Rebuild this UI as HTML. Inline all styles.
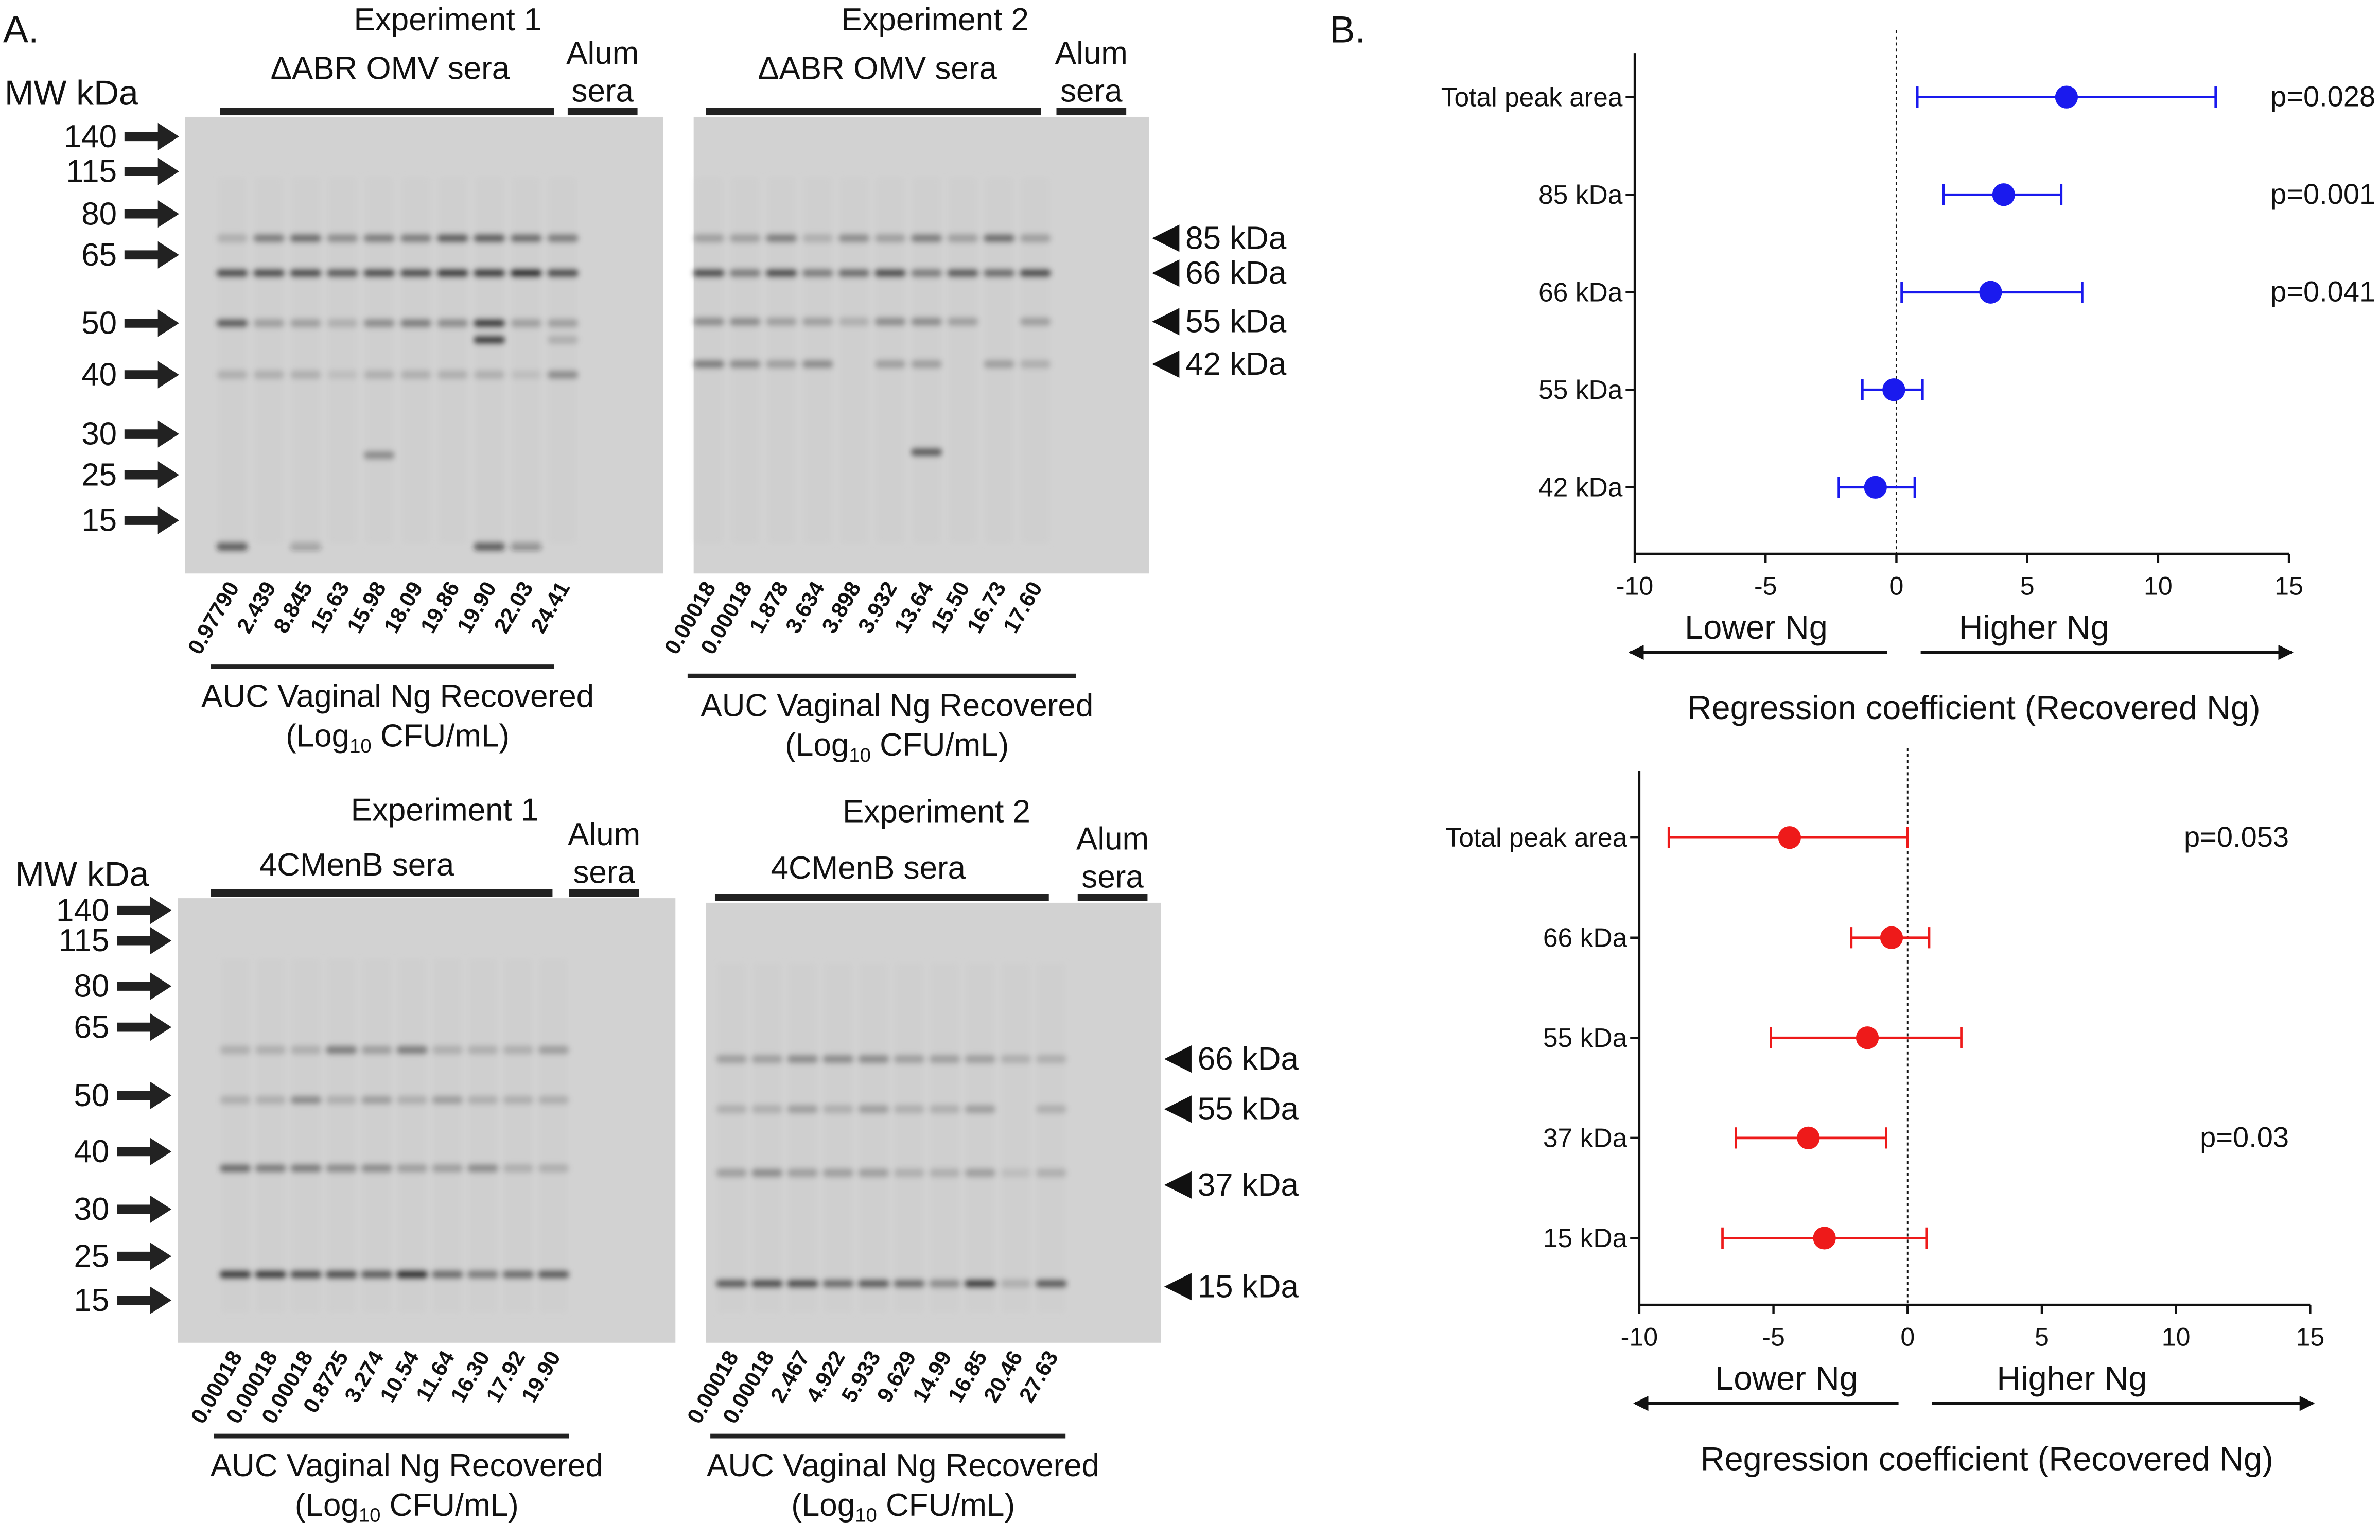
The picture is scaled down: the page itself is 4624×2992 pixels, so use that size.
<!DOCTYPE html>
<html><head><meta charset="utf-8"><style>
html,body{margin:0;padding:0;background:#fff}
svg{display:block}
text{font-family:"Liberation Sans",sans-serif;fill:#111}
</style></head><body>
<svg id="fig" width="4624" height="2992" viewBox="0 0 1568 1015" preserveAspectRatio="none" xmlns="http://www.w3.org/2000/svg">
<defs>
<marker id="ah" markerWidth="10" markerHeight="10" refX="9" refY="5" orient="auto" markerUnits="userSpaceOnUse"><path d="M0,0 L10,5 L0,10 z" fill="#111"/></marker>
<filter id="blur"><feGaussianBlur stdDeviation="1.8"/></filter>
</defs>
<g id="panelA"></g>
<g id="panelB"></g>
</svg>
<script>
// ---------- Forest plot data ----------
const topCats = ["Total peak area","85 kDa","66 kDa","55 kDa","42 kDa"];
const topEst = [6.5,4.1,3.6,-0.1,-0.8];
const topLo = [0.8,1.8,0.2,-1.3,-2.2];
const topHi = [12.2,6.3,7.1,1.0,0.7];
const topP = ["p=0.028","p=0.001","p=0.041","",""];
const botCats = ["Total peak area","66 kDa","55 kDa","37 kDa","15 kDa"];
const botEst = [-4.4,-0.6,-1.5,-3.7,-3.1];
const botLo = [-8.9,-2.1,-5.1,-6.4,-6.9];
const botHi = [0.0,0.8,2.0,-0.8,0.7];
const botP = ["p=0.053","","","p=0.03",""];
const xTicks = [-10,-5,0,5,10,15];

const NS="http://www.w3.org/2000/svg";
function mk(parent,tag,attrs,txt){const e=document.createElementNS(NS,tag);for(const k in attrs)e.setAttribute(k,attrs[k]);if(txt!==undefined)e.textContent=txt;parent.appendChild(e);return e;}

const A=document.getElementById('panelA');
const B=document.getElementById('panelB');

function forest(g,cfg,cats,est,lo,hi,ps,color){
  const x=v=>cfg.x0+(v+10)/25*(cfg.x1-cfg.x0);
  const y=i=>cfg.yFirst+i*cfg.yStep;
  let ax=mk(g,'line',{x1:cfg.x0,y1:cfg.yTop,x2:cfg.x0,y2:cfg.yBot,stroke:'#111','stroke-width':1.5});
  
  
  let bx=mk(g,'line',{x1:cfg.x0,y1:cfg.yBot,x2:cfg.x1,y2:cfg.yBot,stroke:'#111','stroke-width':1.5});
  
  
  let zl=mk(g,'line',{x1:x(0),y1:cfg.yTop-15,x2:x(0),y2:cfg.yBot,stroke:'#111','stroke-width':1,'stroke-dasharray':'2,2'});
  
  
  xTicks.forEach(t=>{
    mk(g,'line',{x1:x(t),y1:cfg.yBot,x2:x(t),y2:cfg.yBot+6,stroke:'#111','stroke-width':1.5});
    let tl=mk(g,'text',{x:x(t),y:cfg.yBot+27,'text-anchor':'middle','font-size':17},String(t));
    
    
  });
  cats.forEach((c,i)=>{
    mk(g,'line',{x1:cfg.x0-6,y1:y(i),x2:cfg.x0,y2:y(i),stroke:'#111','stroke-width':1.5});
    let cl=mk(g,'text',{x:cfg.x0-8,y:y(i)+6,'text-anchor':'end','font-size':17.5},c);
    
    
    let eb=mk(g,'g',{});
    
    
    mk(eb,'line',{x1:x(lo[i]),y1:y(i),x2:x(hi[i]),y2:y(i),stroke:color,'stroke-width':1.6});
    mk(eb,'line',{x1:x(lo[i]),y1:y(i)-7,x2:x(lo[i]),y2:y(i)+7,stroke:color,'stroke-width':1.6});
    mk(eb,'line',{x1:x(hi[i]),y1:y(i)-7,x2:x(hi[i]),y2:y(i)+7,stroke:color,'stroke-width':1.6});
    let pt=mk(g,'circle',{cx:x(est[i]),cy:y(i),r:7.5,fill:color});
    
    
    if(ps[i]){let pl=mk(g,'text',{x:cfg.pX,y:y(i)+6,'text-anchor':'end','font-size':19},ps[i]);
      
      }
  });
  let l1=mk(g,'text',{x:cfg.lowX,y:cfg.yBot+56,'text-anchor':'middle','font-size':22},'Lower Ng');
  
  
  let l2=mk(g,'text',{x:cfg.highX,y:cfg.yBot+56,'text-anchor':'middle','font-size':22},'Higher Ng');
  
  
  let a1=mk(g,'line',{x1:x(0)-6,y1:cfg.yBot+65,x2:cfg.x0-3,y2:cfg.yBot+65,stroke:'#111','stroke-width':2,'marker-end':'url(#ah)'});
  
  
  let a2=mk(g,'line',{x1:x(0)+16,y1:cfg.yBot+65,x2:cfg.x1+2,y2:cfg.yBot+65,stroke:'#111','stroke-width':2,'marker-end':'url(#ah)'});
  
  
  let t=mk(g,'text',{x:(cfg.x0+cfg.x1)/2+8,y:cfg.yBot+109,'text-anchor':'middle','font-size':22},'Regression coefficient (Recovered Ng)');
  
  
}
forest(B,{x0:1077,x1:1508,yTop:35,yBot:365,yFirst:64,yStep:64.3,pX:1565,lowX:1157,highX:1340},topCats,topEst,topLo,topHi,topP,'#1a1aee');
forest(B,{x0:1080,x1:1522,yTop:508,yBot:860,yFirst:552,yStep:66,pX:1508,lowX:1177,highX:1365},botCats,botEst,botLo,botHi,botP,'#ee1a1a');
let bl=mk(B,'text',{x:876,y:28,'font-size':25},'B.');


let al=mk(A,'text',{x:2,y:28,'font-size':25},'A.');



// ---------- Gels ----------
function gel(cfg){
  const g=mk(A,'g',{});
  
  
  mk(g,'rect',{x:cfg.x,y:cfg.y,width:cfg.w,height:cfg.h,fill:'#d2d2d2'});
  const bands=mk(g,'g',{filter:'url(#blur)'});
  cfg.lanes.forEach((lx,li)=>{
    mk(bands,'rect',{x:lx-9,y:cfg.y+40,width:18,height:cfg.h-60,fill:'#c8c8c8',opacity:0.35});
    cfg.bands.forEach(b=>{
      const op=b.ops?b.ops[li]:b.op;
      if(op>0) mk(bands,'rect',{x:lx-10,y:b.y-3,width:20,height:6,rx:2,fill:'#222',opacity:op*0.9});
    });
  });
  let t1=mk(g,'text',{x:cfg.ex,y:cfg.ey,'text-anchor':'middle','font-size':21},cfg.exp);
  
  
  let t2=mk(g,'text',{x:cfg.hx,y:cfg.sy,'text-anchor':'middle','font-size':21},cfg.sera);
  
  
  mk(g,'rect',{x:cfg.barX1,y:cfg.y-6,width:cfg.barX2-cfg.barX1,height:5,fill:'#222'});
  mk(g,'rect',{x:cfg.alX,y:cfg.y-6,width:46,height:5,fill:'#222'});
  mk(g,'text',{x:cfg.alX+23,y:cfg.y-35,'text-anchor':'middle','font-size':21},'Alum');
  mk(g,'text',{x:cfg.alX+23,y:cfg.y-10,'text-anchor':'middle','font-size':21},'sera');
  cfg.nums.forEach((n,i)=>{
    const lx=cfg.lanes[i]+5, ly=cfg.y+cfg.h+9;
    let nt=mk(g,'text',{x:lx,y:ly,'text-anchor':'end','font-size':14.5,'font-weight':'bold',transform:`rotate(-60 ${lx} ${ly})`},n);
    
    
  });
  const by=cfg.y+cfg.h+cfg.auc;
  mk(g,'rect',{x:cfg.lanes[0]-14,y:by,width:cfg.aucW,height:3,fill:'#222'});
  let a=mk(g,'text',{x:cfg.lanes[0]-14+cfg.aucW/2+10,y:by+28,'text-anchor':'middle','font-size':21},'AUC Vaginal Ng Recovered');
  
  
  const t=mk(g,'text',{x:cfg.lanes[0]-14+cfg.aucW/2+10,y:by+54,'text-anchor':'middle','font-size':21});
  t.innerHTML='(Log<tspan font-size="13" dy="4">10</tspan><tspan dy="-4"> CFU/mL)</tspan>';
  if(cfg.mw){
    mk(g,'text',{x:cfg.mwX,y:cfg.y-8,'font-size':23},'MW kDa');
    cfg.mw.forEach(m=>{
      mk(g,'text',{x:cfg.x-45,y:m[1]+7,'text-anchor':'end','font-size':21},m[0]);
      mk(g,'path',{d:`M${cfg.x-40},${m[1]-3} h22 v-6 l14,9 l-14,9 v-6 h-22 z`,fill:'#222'});
    });
  }
  if(cfg.right){
    cfg.right.forEach(r=>{
      mk(g,'path',{d:`M${cfg.x+cfg.w+2},${r[1]} l18,-9 v18 z`,fill:'#111'});
      mk(g,'text',{x:cfg.x+cfg.w+24,y:r[1]+7,'font-size':21},r[0]);
    });
  }
}
function lanes(a,step,n){const r=[];for(let i=0;i<n;i++)r.push(a+i*step);return r;}
gel({name:'gel-omv-exp1',x:122,y:77,w:315,h:301,ex:295,ey:20,hx:257,sy:52,exp:'Experiment 1',sera:'ΔABR OMV sera',barX1:145,barX2:365,alX:374,
  lanes:lanes(153,24.2,10),auc:60,aucW:226,mwX:3,
  nums:['0.97790','2.439','8.845','15.63','15.98','18.09','19.86','19.90','22.03','24.41'],
  mw:[['140',90],['115',113],['80',141],['65',168],['50',213],['40',247],['30',286],['25',313],['15',343]],
  bands:[{y:157,ops:[.2,.5,.6,.4,.5,.5,.7,.7,.6,.5]},{y:180,ops:[.8,.8,.8,.7,.8,.8,.9,.9,1,.8]},{y:213,ops:[.7,.3,.3,.2,.4,.5,.4,.9,.3,.3]},{y:224,ops:[0,0,0,0,0,0,0,.9,0,.2]},{y:247,ops:[.2,.2,.2,.1,.2,.2,.2,.2,.1,.4]},{y:300,ops:[0,0,0,0,.4,0,0,0,0,0]},{y:360,ops:[.7,0,.3,0,0,0,0,.7,.4,0]}]});
gel({name:'gel-omv-exp2',x:457,y:77,w:300,h:301,ex:616,ey:20,hx:578,sy:52,exp:'Experiment 2',sera:'ΔABR OMV sera',barX1:465,barX2:686,alX:696,
  lanes:lanes(467,23.9,10),auc:66,aucW:256,right:[['85 kDa',157],['66 kDa',180],['55 kDa',212],['42 kDa',240]],
  nums:['0.00018','0.00018','1.878','3.634','3.898','3.932','13.64','15.50','16.73','17.60'],
  bands:[{y:157,ops:[.3,.3,.5,.2,.4,.3,.5,.3,.6,.3]},{y:180,ops:[.8,.5,.8,.5,.6,.8,.5,.7,.6,.8]},{y:212,ops:[.4,.4,.3,.3,.2,.4,.4,.3,0,.3]},{y:240,ops:[.5,.4,.3,.4,0,.3,.3,0,.3,.2]},{y:298,ops:[0,0,0,0,0,0,.7,0,0,0]}]});
gel({name:'gel-4cmenb-exp1',x:117,y:592,w:328,h:293,ex:293,ey:541,hx:235,sy:577,exp:'Experiment 1',sera:'4CMenB sera',barX1:139,barX2:364,alX:375,
  lanes:lanes(155,23.3,10),auc:60,aucW:234,mwX:10,
  nums:['0.00018','0.00018','0.00018','0.8725','3.274','10.54','11.64','16.30','17.92','19.90'],
  mw:[['140',600],['115',620],['80',650],['65',677],['50',722],['40',759],['30',797],['25',828],['15',857]],
  bands:[{y:692,ops:[.2,.2,.2,.5,.3,.5,.2,.2,.2,.3]},{y:725,ops:[.2,.2,.4,.2,.3,.2,.3,.2,.2,.2]},{y:770,ops:[.6,.5,.5,.4,.4,.3,.3,.4,.2,.2]},{y:840,ops:[.9,.9,.8,.8,.7,1,.6,.5,.6,.7]}]});
gel({name:'gel-4cmenb-exp2',x:465,y:595,w:300,h:290,ex:617,ey:542,hx:572,sy:579,exp:'Experiment 2',sera:'4CMenB sera',barX1:471,barX2:691,alX:710,
  lanes:lanes(482,23.4,10),auc:60,aucW:234,right:[['66 kDa',698],['55 kDa',731],['37 kDa',781],['15 kDa',848]],
  nums:['0.00018','0.00018','2.467','4.922','5.933','9.629','14.99','16.85','20.46','27.63'],
  bands:[{y:698,ops:[.3,.3,.4,.4,.4,.3,.3,.3,.2,.2]},{y:731,ops:[.2,.2,.3,.2,.3,.2,.2,.3,0,.2]},{y:773,ops:[.3,.4,.3,.3,.3,.2,.2,.3,.1,.2]},{y:846,ops:[.7,.8,.8,.6,.7,.6,.4,.9,.2,.7]}]});
</script>
</body></html>
